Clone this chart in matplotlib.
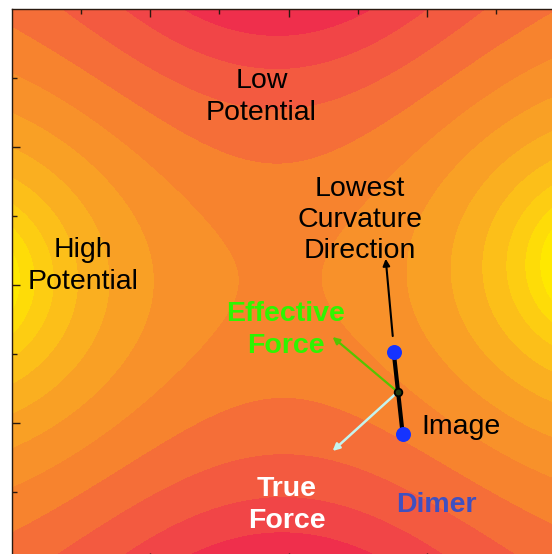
import numpy as np
import matplotlib
matplotlib.use("Agg")
import matplotlib.pyplot as plt
from matplotlib.colors import LinearSegmentedColormap

# Model potential: two sources (high potential, left/right) and two sinks
# (low potential, top/bottom) placed just outside the plotted window.
peak_left = (-2.37, 0.03)
peak_right = (2.25, 0.15)
well_top = (-0.065, 2.95)
well_bottom = (-0.065, -3.05)
peak_strength = 1.0
well_strength = 1.0
level_step = 0.235
level_phase = 0.12   # first contour sits this many steps above the saddle

# Dimer geometry (data coordinates)
dimer_center = (0.79, -0.775)
image_a = (0.761, -0.486)
image_b = (0.826, -1.080)

# Arrows: (start, tip)
curvature_arrow = ((0.754, -0.370), (0.703, 0.190))
effective_force = ((0.79, -0.775), (0.319, -0.377))
true_force = ((0.79, -0.775), (0.319, -1.203))

# Tick positions
major_ticks = [-1, 0, 1]
minor_ticks = [-1.5, -0.5, 0.5, 1.5]

# Band colours, keyed by band index relative to the saddle band
band_anchor_idx = [-5, -4, -3, -2, -1, 0, 1, 2, 3, 4, 5, 6, 7]
band_anchor_col = ["#EC2A4E", "#EF2F4C", "#F14647", "#F35A40", "#F56E38",
                   "#F7832E", "#F8912A", "#F9A025", "#FAAF20", "#FCBE19",
                   "#FDCD12", "#FEDC08", "#FFE800"]

plt.rcParams['font.family'] = ['Liberation Sans', 'DejaVu Sans']


def log_dist(X, Y, p):
    return 0.5 * np.log((X - p[0]) ** 2 + (Y - p[1]) ** 2)


x = np.linspace(-2, 2, 700)
y = np.linspace(-2, 2, 700)
X, Y = np.meshgrid(x, y)
V = (-peak_strength * (log_dist(X, Y, peak_left) + log_dist(X, Y, peak_right))
     + well_strength * (log_dist(X, Y, well_top) + log_dist(X, Y, well_bottom)))

# saddle value: minimum over x of the maximum over y (central region)
central = (np.abs(x) < 1.0)
v_saddle = np.min(np.max(V, axis=0)[central])

k_lo = int(np.floor((V.min() - v_saddle) / level_step)) - 1
k_hi = int(np.ceil((V.max() - v_saddle) / level_step)) + 1
bounds = v_saddle + level_step * (np.arange(k_lo, k_hi) + level_phase)
levels = np.concatenate([[V.min() - 1], bounds, [V.max() + 1]])
ks = np.arange(k_lo, k_hi + 1)

lo, hi = band_anchor_idx[0], band_anchor_idx[-1]
band_cmap = LinearSegmentedColormap.from_list(
    "bands", [((i - lo) / (hi - lo), c) for i, c in zip(band_anchor_idx, band_anchor_col)])
band_colors = [band_cmap(np.clip((k - lo) / (hi - lo), 0, 1)) for k in ks]

fig = plt.figure(figsize=(5.52, 5.54), dpi=100)
ax = fig.add_axes([12 / 552, 1 - 561 / 554, 553 / 552, 552 / 554])
cs = ax.contourf(X, Y, V, levels=levels, colors=band_colors)
cs.set_edgecolor('face')
cs.set_linewidth(0.6)
ax.set_xlim(-2, 2)
ax.set_ylim(-2, 2)

ax.set_xticks(major_ticks)
ax.set_xticks(minor_ticks, minor=True)
ax.set_yticks(major_ticks)
ax.set_yticks(minor_ticks, minor=True)
ax.tick_params(which='both', direction='in', top=True, right=True,
               labelbottom=False, labelleft=False, color='#2a1a10')
ax.tick_params(which='major', length=6, width=1)
ax.tick_params(which='minor', length=3.5, width=1)
for s in ax.spines.values():
    s.set_color('#2a1a10')
    s.set_linewidth(1)

# Arrows
(s0, t0) = curvature_arrow
ax.annotate('', xy=t0, xytext=s0,
            arrowprops=dict(arrowstyle='-|>', color='black', lw=1.5,
                            mutation_scale=10, shrinkA=0, shrinkB=0))
(s1, t1) = effective_force
ax.annotate('', xy=t1, xytext=s1,
            arrowprops=dict(arrowstyle='-|>', color='#55C400', lw=1.6,
                            mutation_scale=10, shrinkA=0, shrinkB=0))
(s2, t2) = true_force
ax.annotate('', xy=t2, xytext=s2,
            arrowprops=dict(arrowstyle='-|>', color='#C4F4EE', lw=1.8,
                            mutation_scale=10, shrinkA=0, shrinkB=0))

# Dimer axis and images
ax.plot([image_a[0], image_b[0]], [image_a[1], image_b[1]], color='black', lw=3,
        solid_capstyle='round', zorder=4)
ax.plot([image_a[0], image_b[0]], [image_a[1], image_b[1]], 'o', color='#1533FF',
        markersize=10.8, markeredgewidth=0, zorder=5)
ax.plot(*dimer_center, 'o', markersize=5.5, markerfacecolor='#1f3a10',
        markeredgecolor='black', markeredgewidth=1.3, zorder=6)

# Labels
fs = 20.5
ls = 1.27
ax.text(-0.196, 1.362, "Low\nPotential", ha='center', va='center', fontsize=fs,
        color='black', linespacing=ls)
ax.text(-1.486, 0.138, "High\nPotential", ha='center', va='center', fontsize=fs,
        color='black', linespacing=ls)
ax.text(0.514, 0.471, "Lowest\nCurvature\nDirection", ha='center', va='center',
        fontsize=fs, color='black', linespacing=ls)
ax.text(-0.022, -0.326, "Effective\nForce", ha='center', va='center', fontsize=fs,
        color='#2EF500', fontweight='bold', linespacing=ls)
ax.text(-0.014, -1.594, "True\nForce", ha='center', va='center', fontsize=fs,
        color='white', fontweight='bold', linespacing=ls)
ax.text(1.072, -1.594, "Dimer", ha='center', va='center', fontsize=fs,
        color='#4050C0', fontweight='bold')
ax.text(0.964, -1.029, "Image", ha='left', va='center', fontsize=fs,
        color='black')

fig.savefig("out.png", dpi=100)
